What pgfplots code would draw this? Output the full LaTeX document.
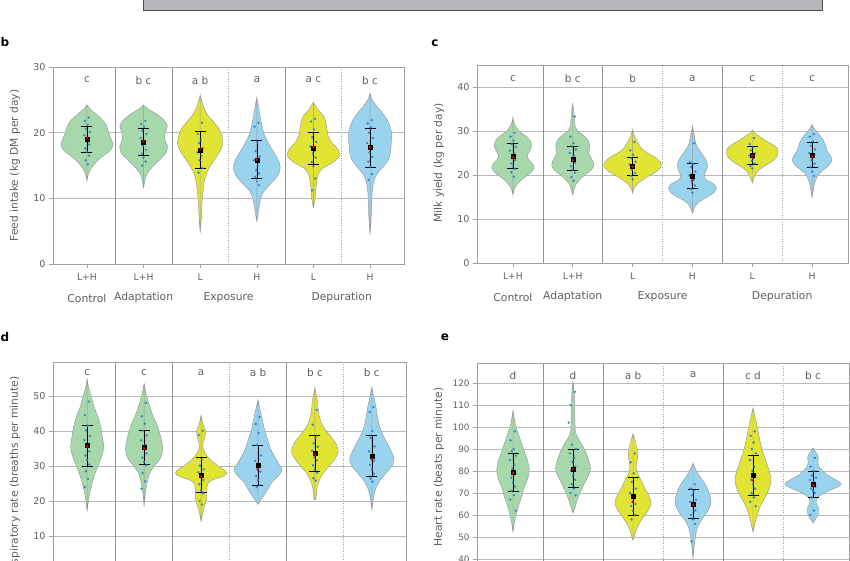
\documentclass[border=0pt]{standalone}
\usepackage{fontspec}
\setmainfont{DejaVu Sans}
\usepackage{pgfplots}
\usepackage{pgfplotstable}
\pgfplotsset{compat=1.18}
\usepgfplotslibrary{fillbetween}
\definecolor{vgreen}{RGB}{166,216,172}
\definecolor{vyellow}{RGB}{226,228,52}
\definecolor{vblue}{RGB}{154,211,238}
\definecolor{dotblue}{RGB}{36,128,208}
\definecolor{txtgray}{RGB}{95,95,95}
\definecolor{boxgray}{RGB}{183,183,187}

% ---- violin outlines: y, half-width (category units) ----
% panel b: feed intake
\pgfplotstableread[row sep=\\]{y w\\ 12.6 0\\ 13.5 0.02\\ 14.5 0.07\\ 15.5 0.16\\ 16.3 0.26\\ 17.2 0.4\\ 18.1 0.46\\ 19 0.43\\ 20 0.38\\ 21 0.35\\ 21.9 0.28\\ 22.7 0.18\\ 23.4 0.08\\ 24.2 0\\}\vbA
\pgfplotstableread[row sep=\\]{y w\\ 11.5 0\\ 13 0.03\\ 14 0.08\\ 15 0.18\\ 16 0.3\\ 17 0.4\\ 18 0.42\\ 19 0.37\\ 20 0.38\\ 21 0.42\\ 22 0.35\\ 23 0.2\\ 23.6 0.08\\ 24.2 0\\}\vbB
\pgfplotstableread[row sep=\\]{y w\\ 4.7 0\\ 7 0.02\\ 9 0.03\\ 11 0.05\\ 12.5 0.07\\ 13.5 0.1\\ 14.5 0.15\\ 15.5 0.22\\ 16.5 0.3\\ 17.5 0.37\\ 18.5 0.4\\ 19.5 0.38\\ 20.5 0.34\\ 21.5 0.25\\ 22.5 0.15\\ 23.5 0.08\\ 24.5 0.04\\ 25.7 0\\}\vbC
\pgfplotstableread[row sep=\\]{y w\\ 6.4 0\\ 8 0.03\\ 10 0.07\\ 11 0.12\\ 12 0.22\\ 13 0.33\\ 14 0.4\\ 15 0.41\\ 16 0.37\\ 17 0.3\\ 18.5 0.2\\ 20 0.12\\ 22 0.07\\ 24 0.03\\ 25.3 0\\}\vbD
\pgfplotstableread[row sep=\\]{y w\\ 8.5 0\\ 10 0.03\\ 12 0.05\\ 13.5 0.08\\ 14.5 0.15\\ 15.5 0.35\\ 16.5 0.46\\ 17.5 0.43\\ 18.5 0.32\\ 19.5 0.26\\ 20.5 0.24\\ 21.5 0.22\\ 22.5 0.18\\ 23.5 0.08\\ 24.6 0\\}\vbE
\pgfplotstableread[row sep=\\]{y w\\ 4.4 0\\ 7 0.02\\ 9 0.03\\ 11 0.04\\ 13 0.08\\ 14 0.15\\ 15 0.25\\ 16 0.33\\ 17 0.36\\ 18 0.37\\ 19 0.38\\ 20 0.38\\ 21 0.35\\ 22 0.3\\ 23 0.22\\ 24 0.12\\ 25 0.04\\ 26 0\\}\vbF
% panel c: milk yield
\pgfplotstableread[row sep=\\]{y w\\ 15.5 0\\ 17 0.03\\ 18 0.08\\ 19 0.15\\ 20 0.25\\ 21 0.33\\ 22 0.35\\ 23 0.3\\ 24 0.24\\ 25 0.26\\ 26 0.3\\ 27 0.31\\ 28 0.28\\ 29 0.2\\ 30 0.1\\ 31.5 0.03\\ 33 0\\}\vcA
\pgfplotstableread[row sep=\\]{y w\\ 15.5 0\\ 17 0.03\\ 18 0.06\\ 19 0.12\\ 20 0.2\\ 21 0.3\\ 22 0.35\\ 23 0.34\\ 24 0.3\\ 25 0.27\\ 26 0.28\\ 27 0.28\\ 28 0.25\\ 29 0.18\\ 30 0.08\\ 31 0.04\\ 34 0.02\\ 36.4 0\\}\vcB
\pgfplotstableread[row sep=\\]{y w\\ 16 0\\ 17 0.03\\ 18 0.08\\ 19 0.18\\ 20 0.3\\ 21 0.42\\ 22 0.48\\ 23 0.46\\ 24 0.38\\ 25 0.25\\ 26 0.15\\ 27 0.1\\ 28 0.06\\ 29 0.03\\ 30.2 0\\}\vcC
\pgfplotstableread[row sep=\\]{y w\\ 11.4 0\\ 13 0.05\\ 14 0.12\\ 15 0.25\\ 16 0.36\\ 17 0.4\\ 18 0.35\\ 19 0.22\\ 20 0.2\\ 21 0.23\\ 22 0.25\\ 23 0.24\\ 24 0.2\\ 25 0.15\\ 26 0.1\\ 27 0.06\\ 29 0.03\\ 31 0\\}\vcD
\pgfplotstableread[row sep=\\]{y w\\ 18.2 0\\ 19 0.02\\ 20 0.05\\ 21 0.1\\ 22 0.2\\ 23 0.32\\ 24 0.4\\ 25 0.43\\ 26 0.42\\ 27 0.33\\ 28 0.2\\ 29 0.1\\ 29.5 0.04\\ 30.2 0\\}\vcE
\pgfplotstableread[row sep=\\]{y w\\ 14.8 0\\ 16.5 0.02\\ 18 0.04\\ 19.5 0.08\\ 20.5 0.13\\ 21.5 0.22\\ 22.5 0.3\\ 23.5 0.33\\ 24.5 0.3\\ 25.5 0.25\\ 26.5 0.23\\ 27.5 0.2\\ 28.5 0.16\\ 29.5 0.1\\ 30.5 0.04\\ 31.4 0\\}\vcF
% panel d: respiratory rate
\pgfplotstableread[row sep=\\]{y w\\ 17 0\\ 21 0.03\\ 24 0.07\\ 27 0.12\\ 30 0.19\\ 33 0.26\\ 35.5 0.29\\ 38 0.27\\ 41 0.24\\ 44 0.19\\ 47 0.12\\ 50 0.07\\ 52 0.03\\ 55 0\\}\vdA
\pgfplotstableread[row sep=\\]{y w\\ 18.3 0\\ 22 0.02\\ 25 0.05\\ 28 0.1\\ 30 0.18\\ 32 0.28\\ 34 0.32\\ 36 0.32\\ 39 0.28\\ 42 0.22\\ 45 0.14\\ 48 0.08\\ 51 0.03\\ 53.7 0\\}\vdB
\pgfplotstableread[row sep=\\]{y w\\ 14 0\\ 16 0.02\\ 18 0.05\\ 19.5 0.08\\ 21 0.1\\ 23 0.1\\ 25 0.12\\ 26 0.2\\ 27 0.38\\ 28 0.45\\ 29 0.4\\ 30 0.3\\ 32 0.15\\ 34 0.06\\ 36 0.03\\ 38 0.06\\ 40 0.08\\ 42 0.03\\ 44.6 0\\}\vdC
\pgfplotstableread[row sep=\\]{y w\\ 19 0\\ 20 0.04\\ 22 0.12\\ 24 0.2\\ 25.5 0.25\\ 27 0.35\\ 29 0.42\\ 31 0.35\\ 33 0.28\\ 35 0.22\\ 37 0.18\\ 40 0.12\\ 43 0.08\\ 46 0.04\\ 48.9 0\\}\vdD
\pgfplotstableread[row sep=\\]{y w\\ 20.3 0\\ 21 0.02\\ 24 0.04\\ 26 0.08\\ 28 0.15\\ 30 0.25\\ 32 0.35\\ 34 0.41\\ 36 0.38\\ 38 0.3\\ 40 0.2\\ 42 0.12\\ 44 0.08\\ 46 0.06\\ 49 0.04\\ 52.3 0\\}\vdE
\pgfplotstableread[row sep=\\]{y w\\ 17.4 0\\ 20 0.02\\ 22 0.04\\ 24 0.08\\ 26 0.15\\ 28 0.25\\ 30 0.35\\ 32 0.39\\ 35 0.32\\ 38 0.22\\ 41 0.14\\ 44 0.1\\ 47 0.07\\ 50 0.03\\ 52.6 0\\}\vdF
% panel e: heart rate
\pgfplotstableread[row sep=\\]{y w\\ 52 0\\ 56 0.02\\ 60 0.05\\ 64 0.09\\ 68 0.14\\ 72 0.18\\ 76 0.24\\ 80 0.27\\ 84 0.25\\ 88 0.2\\ 92 0.15\\ 96 0.1\\ 100 0.05\\ 104 0.02\\ 107.7 0\\}\veA
\pgfplotstableread[row sep=\\]{y w\\ 61 0\\ 63 0.03\\ 66 0.06\\ 69 0.1\\ 72 0.15\\ 75 0.2\\ 78 0.26\\ 81 0.29\\ 84 0.27\\ 88 0.22\\ 92 0.15\\ 95 0.08\\ 98 0.04\\ 105 0.03\\ 115 0.02\\ 121 0\\}\veB
\pgfplotstableread[row sep=\\]{y w\\ 48.6 0\\ 50 0.02\\ 53 0.05\\ 56 0.1\\ 59 0.17\\ 62 0.25\\ 65 0.3\\ 67 0.29\\ 70 0.24\\ 73 0.18\\ 76 0.13\\ 79 0.07\\ 82 0.05\\ 85 0.07\\ 88 0.08\\ 91 0.06\\ 94 0.03\\ 97 0\\}\veC
\pgfplotstableread[row sep=\\]{y w\\ 40 0\\ 46 0.02\\ 50 0.04\\ 54 0.07\\ 57 0.12\\ 60 0.2\\ 63 0.27\\ 66 0.3\\ 69 0.28\\ 72 0.24\\ 75 0.18\\ 78 0.1\\ 81 0.04\\ 83.6 0\\}\veD
\pgfplotstableread[row sep=\\]{y w\\ 52 0\\ 56 0.03\\ 60 0.07\\ 64 0.12\\ 68 0.2\\ 72 0.27\\ 76 0.3\\ 80 0.27\\ 84 0.22\\ 88 0.17\\ 92 0.13\\ 96 0.1\\ 100 0.07\\ 104 0.04\\ 108.6 0\\}\veE
\pgfplotstableread[row sep=\\]{y w\\ 56.4 0\\ 58 0.04\\ 60 0.08\\ 62 0.1\\ 64 0.08\\ 66 0.05\\ 68 0.08\\ 70 0.18\\ 72 0.35\\ 74 0.47\\ 76 0.38\\ 78 0.25\\ 80 0.16\\ 82 0.1\\ 84 0.08\\ 86 0.09\\ 88 0.06\\ 90.5 0\\}\veF

% mean +/- error tables
\pgfplotstableread[row sep=\\]{x y ep em\\ 0 19.0 2.0 2.0\\ 1 18.6 2.1 2.0\\ 2 17.4 2.8 2.8\\ 3 15.8 3.0 2.7\\ 4 17.6 2.4 2.4\\ 5 17.8 2.9 3.0\\}\ebB
\pgfplotstableread[row sep=\\]{x y ep em\\ 0 24.3 2.9 2.8\\ 1 23.7 2.8 2.7\\ 2 22.0 2.0 2.0\\ 3 19.7 2.9 2.7\\ 4 24.5 2.0 2.0\\ 5 24.4 3.1 2.6\\}\ebC
\pgfplotstableread[row sep=\\]{x y ep em\\ 0 35.8 5.7 5.8\\ 1 35.3 4.9 4.8\\ 2 27.3 5.2 4.8\\ 3 30.2 5.8 5.7\\ 4 33.7 5.1 5.2\\ 5 32.7 6.1 5.7\\}\ebD
\pgfplotstableread[row sep=\\]{x y ep em\\ 0 79.4 8.6 8.4\\ 1 81.0 9.0 8.5\\ 2 68.5 8.5 8.5\\ 3 65.0 6.5 6.5\\ 4 78.1 9.0 9.0\\ 5 74.0 6.0 6.0\\}\ebE

\newcommand{\violin}[4]{% center, colour, table, name
  \addplot[draw=none, smooth, name path=#4r] table[x expr={#1+\thisrow{w}}, y=y] {#3};
  \addplot[draw=none, smooth, name path=#4l] table[x expr={#1-\thisrow{w}}, y=y] {#3};
  \addplot[fill=#2, draw=gray!80, line width=0.45pt] fill between[of=#4r and #4l];
}
\newcommand{\summary}[2]{% error table, red points
  \addplot[only marks, mark=square*, mark size=2pt, black,
    error bars/.cd, y dir=both, y explicit,
    error bar style={black, line width=0.5pt},
    error mark options={black, rotate=90, mark size=5.5pt, line width=0.5pt}]
    table[x=x, y=y, y error plus=ep, y error minus=em] {#1};
  \addplot[only marks, mark=*, mark size=1.2pt, red!85!black] coordinates {#2};
}

\pgfplotsset{panel/.style={
  scale only axis, clip=false,
  xmin=-0.6, xmax=5.6,
  xtick={0,...,5}, xticklabels={L+H,L+H,L,H,L,H},
  xtick pos=bottom, ytick pos=left,
  minor xtick={2.5,4.5}, xminorgrids,
  minor grid style={gray!70, dotted, line width=0.6pt}, minor tick length=0pt,
  extra x ticks={0.5,1.5,3.5}, extra x tick labels={},
  extra x tick style={grid=major, major tick length=0pt, major grid style={gray!85, line width=0.6pt}},
  ymajorgrids, major grid style={gray!55, line width=0.7pt},
  axis line style={gray!75, line width=0.6pt},
  tick style={gray!75, line width=0.6pt}, major tick length=4pt, tick align=outside,
  yticklabel style={text=txtgray, font=\fontsize{9.5}{11}\selectfont},
  xticklabel style={text=txtgray, font=\fontsize{9.2}{11}\selectfont, yshift=-2pt},
  /pgf/number format/assume math mode=true,
  every axis y label/.style={at={(rel axis cs:0,0.5)}, xshift=-38pt, rotate=90, anchor=center, text=txtgray, font=\fontsize{10.7}{12}\selectfont},
}}
\tikzset{letter/.style={text=txtgray, font=\fontsize{10.5}{12}\selectfont, anchor=center},
  grp/.style={text=txtgray, font=\fontsize{10.8}{12}\selectfont, anchor=center},
  plab/.style={font=\bfseries\fontsize{12}{14}\selectfont, anchor=center}}

\begin{document}
\begin{tikzpicture}

% ---- remnant of panel a (grey box at top, cut by the page edge) ----
\filldraw[fill=boxgray, draw=gray!60!black, line width=1pt] (143pt,549.3pt) rectangle (822pt,575pt);

\node[plab] at (5pt,518pt) {b};
\node[plab] at (435pt,517pt) {c};
\node[plab] at (5pt,223pt) {d};
\node[plab] at (445pt,223pt) {e};

% ---- panel b ----
\begin{axis}[panel, at={(53pt,493pt)}, anchor=north west, width=351pt, height=197pt,
  ymin=0, ymax=30, ytick={0,10,20,30}, ylabel={Feed intake (kg DM per day)}]
\violin{0}{vgreen}{\vbA}{bA}
\violin{1}{vgreen}{\vbB}{bB}
\violin{2}{vyellow}{\vbC}{bC}
\violin{3}{vblue}{\vbD}{bD}
\violin{4}{vyellow}{\vbE}{bE}
\violin{5}{vblue}{\vbF}{bF}
\addplot[only marks, mark=*, mark size=1pt, dotblue, opacity=0.85] coordinates {
(0.03,22.3)(-0.04,21.8)(0.01,21.2)(-0.02,20.6)(0.05,20.1)(-0.05,19.6)(0.02,19.2)(-0.01,18.7)(0.04,18.2)(-0.03,17.6)(0,17.1)(0.035,16.5)(-0.025,15.8)(0.015,15.2)
(1.03,21.8)(0.96,21.3)(1.01,20.9)(0.98,20.3)(1.05,19.8)(0.95,19.2)(1.02,18.6)(0.99,18.0)(1.04,17.4)(0.97,16.8)(1.0,16.2)(1.035,15.6)(0.975,15.0)
(2.03,21.5)(1.96,19.8)(2.01,18.9)(1.98,18.4)(2.05,17.6)(1.95,17.0)(2.02,16.5)(1.99,15.8)(2.04,14.6)(1.97,13.9)
(3.03,21.5)(2.96,20.9)(3.01,18.5)(2.98,17.2)(3.05,16.4)(2.95,15.8)(3.02,15.0)(2.99,14.3)(3.04,13.8)(2.97,13.3)(3.0,12.6)(3.035,12.0)
(4.03,22.1)(3.96,21.7)(4.01,20.5)(3.98,19.3)(4.05,18.6)(3.95,17.9)(4.02,17.3)(3.99,16.8)(4.04,16.2)(3.97,15.5)(4.0,14.9)(4.035,13.0)(3.975,11.2)
(5.03,21.9)(4.96,21.4)(5.01,20.8)(4.98,20.0)(5.05,19.2)(4.95,18.4)(5.02,17.6)(4.99,17.0)(5.04,16.3)(4.97,15.6)(5.0,14.8)(5.035,13.7)(4.975,12.8)};
\summary{\ebB}{(0,19.2)(1,18.7)(2,17.5)(3,15.9)(4,17.8)(5,17.8)}
\node[letter] at (axis cs:0,28) {c};
\node[letter] at (axis cs:1,28) {b c};
\node[letter] at (axis cs:2,28) {a b};
\node[letter] at (axis cs:3,28) {a};
\node[letter] at (axis cs:4,28) {a c};
\node[letter] at (axis cs:5,28) {b c};
\node[grp] at ([yshift=-34pt]axis cs:0,0) {Control};
\node[grp] at ([yshift=-34pt]axis cs:1,0) {Adaptation};
\node[grp] at ([yshift=-34pt]axis cs:2.5,0) {Exposure};
\node[grp] at ([yshift=-34pt]axis cs:4.5,0) {Depuration};
\end{axis}

% ---- panel c ----
\begin{axis}[panel, at={(477pt,495pt)}, anchor=north west, width=371pt, height=198pt,
  ymin=0, ymax=45, ytick={0,10,20,30,40}, ylabel={Milk yield (kg per day)},
  every axis y label/.append style={xshift=1pt}]
\violin{0}{vgreen}{\vcA}{cA}
\violin{1}{vgreen}{\vcB}{cB}
\violin{2}{vyellow}{\vcC}{cC}
\violin{3}{vblue}{\vcD}{cD}
\violin{4}{vyellow}{\vcE}{cE}
\violin{5}{vblue}{\vcF}{cF}
\addplot[only marks, mark=*, mark size=1pt, dotblue, opacity=0.85] coordinates {
(0.03,29.6)(-0.04,28.7)(0.01,27.8)(-0.02,27.0)(0.05,26.4)(-0.05,25.5)(0.02,24.9)(-0.01,24.2)(0.04,23.4)(-0.03,22.6)(0,22.0)(0.035,21.4)(-0.025,20.6)(0.015,19.6)
(1.03,33.3)(0.96,28.7)(1.01,27.2)(0.98,26.5)(1.05,25.8)(0.95,25.0)(1.02,24.3)(0.99,23.6)(1.04,22.8)(0.97,22.0)(1.0,21.2)(1.035,20.5)(0.975,19.5)(1.015,18.7)
(2.03,27.5)(1.96,25.6)(2.01,24.6)(1.98,23.8)(2.05,23.0)(1.95,22.4)(2.02,21.8)(1.99,21.2)(2.04,20.4)(1.97,19.8)(2.0,19.0)
(3.03,27.2)(2.96,23.0)(3.01,22.5)(2.98,21.8)(3.05,20.8)(2.95,19.9)(3.02,19.0)(2.99,18.3)(3.04,17.6)(2.97,16.8)(3.0,16.0)
(4.03,28.4)(3.96,27.0)(4.01,26.3)(3.98,25.6)(4.05,24.9)(3.95,24.4)(4.02,23.8)(3.99,23.2)(4.04,22.6)(3.97,22.0)(4.0,21.5)
(5.03,29.3)(4.96,28.7)(5.01,27.6)(4.98,26.6)(5.05,25.8)(4.95,25.0)(5.02,24.2)(4.99,23.4)(5.04,22.6)(4.97,21.8)(5.0,20.8)(5.035,19.8)};
\summary{\ebC}{(0,24.1)(1,23.4)(2,21.9)(3,18.8)(4,24.3)(5,24.2)}
\node[letter] at (axis cs:0,42) {c};
\node[letter] at (axis cs:1,42) {b c};
\node[letter] at (axis cs:2,42) {b};
\node[letter] at (axis cs:3,42) {a};
\node[letter] at (axis cs:4,42) {c};
\node[letter] at (axis cs:5,42) {c};
\node[grp] at ([yshift=-34pt]axis cs:0,0) {Control};
\node[grp] at ([yshift=-34pt]axis cs:1,0) {Adaptation};
\node[grp] at ([yshift=-34pt]axis cs:2.5,0) {Exposure};
\node[grp] at ([yshift=-34pt]axis cs:4.5,0) {Depuration};
\end{axis}

% ---- panel d (its lower part lies below the page edge) ----
\begin{axis}[panel, at={(53pt,198pt)}, anchor=north west, width=353pt, height=209pt,
  ymin=0, ymax=59.7, ytick={10,20,30,40,50}, xticklabels={},
  ylabel={Respiratory rate (breaths per minute)},
  every axis y label/.append style={at={(rel axis cs:0,0.42)}, xshift=6pt}]
\violin{0}{vgreen}{\vdA}{dA}
\violin{1}{vgreen}{\vdB}{dB}
\violin{2}{vyellow}{\vdC}{dC}
\violin{3}{vblue}{\vdD}{dD}
\violin{4}{vyellow}{\vdE}{dE}
\violin{5}{vblue}{\vdF}{dF}
\addplot[only marks, mark=*, mark size=1pt, dotblue, opacity=0.85] coordinates {
(0.03,48.4)(-0.04,44.5)(0.01,41.5)(-0.02,40.2)(0.05,38.5)(-0.05,37.4)(0.02,36.3)(-0.01,35.4)(0.04,34.2)(-0.03,33.0)(0,31.7)(0.035,30.4)(-0.025,28.5)(0.015,26.3)(-0.045,24.0)
(1.03,48.0)(0.96,44.2)(1.01,42.1)(0.98,40.1)(1.05,38.7)(0.95,37.3)(1.02,36.1)(0.99,35.0)(1.04,33.6)(0.97,32.4)(1.0,31.1)(1.035,30.2)(0.975,28.0)(1.015,25.6)(0.955,23.5)
(2.03,40.0)(1.96,38.8)(2.01,32.0)(1.98,30.1)(2.05,29.0)(1.95,28.2)(2.02,27.5)(1.99,26.8)(2.04,26.0)(1.97,24.8)(2.0,23.0)(2.035,22.2)(1.975,20.0)(2.015,19.0)
(3.03,44.0)(2.96,42.0)(3.01,39.4)(2.98,36.0)(3.05,33.0)(2.95,31.5)(3.02,30.4)(2.99,29.4)(3.04,28.4)(2.97,27.2)(3.0,26.0)(3.035,24.5)(2.975,24.0)
(4.03,46.0)(3.96,41.8)(4.01,38.0)(3.98,36.5)(4.05,35.5)(3.95,34.4)(4.02,33.5)(3.99,32.5)(4.04,31.6)(3.97,30.2)(4.0,29.0)(4.035,28.0)(3.975,26.5)(4.015,25.8)
(5.03,46.8)(4.96,45.4)(5.01,40.0)(4.98,38.0)(5.05,35.6)(4.95,34.2)(5.02,33.3)(4.99,32.4)(5.04,31.5)(4.97,30.3)(5.0,29.0)(5.035,27.8)(4.975,26.4)(5.015,25.5)};
\summary{\ebD}{(0,35.6)(1,35.0)(2,27.0)(3,29.0)(4,33.3)(5,32.0)}
\node[letter] at (axis cs:0,56.6) {c};
\node[letter] at (axis cs:1,56.6) {c};
\node[letter] at (axis cs:2,56.6) {a};
\node[letter] at (axis cs:3,56.6) {a b};
\node[letter] at (axis cs:4,56.6) {b c};
\node[letter] at (axis cs:5,56.6) {b c};
\end{axis}

% ---- panel e (its lower part lies below the page edge) ----
\begin{axis}[panel, at={(477pt,197pt)}, anchor=north west, width=372pt, height=284pt,
  ymin=0, ymax=129.1, ytick={40,50,...,120}, xticklabels={},
  yticklabel style={font=\fontsize{8.8}{10}\selectfont},
  ylabel={Heart rate (beats per minute)},
  every axis y label/.append style={at={(rel axis cs:0,0.634)}, xshift=0pt}]
\violin{0}{vgreen}{\veA}{eA}
\violin{1}{vgreen}{\veB}{eB}
\violin{2}{vyellow}{\veC}{eC}
\violin{3}{vblue}{\veD}{eD}
\violin{4}{vyellow}{\veE}{eE}
\violin{5}{vblue}{\veF}{eF}
\addplot[only marks, mark=*, mark size=1pt, dotblue, opacity=0.85] coordinates {
(0.03,98)(-0.04,94)(0.01,90)(-0.02,89)(0.05,87)(-0.05,85)(0.02,83)(-0.01,81)(0.04,79)(-0.03,77)(0,75)(0.035,73)(-0.025,71)(0.015,69)(-0.045,67)(0.045,62)
(1.03,116)(0.96,110)(0.93,102)(0.98,92)(1.05,90)(0.95,88)(1.02,86)(0.99,84)(1.04,82)(0.97,80)(1.0,78)(1.035,76)(0.975,74)(1.015,72)(0.955,70)(1.045,69)
(2.03,88)(1.96,84)(2.01,79)(1.98,75)(2.05,72)(1.95,70)(2.02,68)(1.99,66)(2.04,65)(1.97,64)(2.0,62)(2.035,60)(1.975,58)
(3.03,74)(2.96,72)(3.01,71)(2.98,69)(3.05,67)(2.95,66)(3.02,65)(2.99,64)(3.04,62)(2.97,60)(3.0,58)(3.035,56)(2.975,48)
(4.03,98)(3.96,96)(4.01,93)(3.98,90)(4.05,88)(3.95,85)(4.02,82)(3.99,80)(4.04,78)(3.97,76)(4.0,74)(4.035,72)(3.975,70)(4.015,68)(3.955,66)(4.045,64)
(5.03,86)(4.96,82)(5.01,80)(4.98,78)(5.05,77)(4.95,76)(5.02,75)(4.99,74)(5.04,73)(4.97,72)(5.0,71)(5.035,70)(4.975,68)(5.015,62)(4.955,60)};
\summary{\ebE}{(0,79)(1,80.8)(2,66)(3,64.5)(4,75.8)(5,73.5)}
\node[letter] at (axis cs:0,123.6) {d};
\node[letter] at (axis cs:1,123.6) {d};
\node[letter] at (axis cs:2,123.6) {a b};
\node[letter] at (axis cs:3,123.6) {a};
\node[letter] at (axis cs:4,123.6) {c d};
\node[letter] at (axis cs:5,123.6) {b c};
\end{axis}

\pgfresetboundingbox
\useasboundingbox (0,0) rectangle (850pt,560pt);
\end{tikzpicture}
\end{document}
